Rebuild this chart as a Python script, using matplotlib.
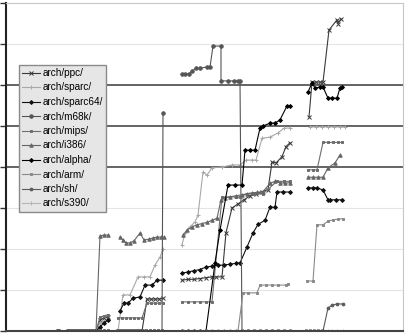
import numpy as np
import matplotlib
matplotlib.use("Agg")
from matplotlib import pyplot as plt

plt.rcParams["font.family"] = ["Liberation Sans", "DejaVu Sans"]

# x = sample number (days), y = size per arch directory; None = no sample
zero_days = [26, 31, 33, 35, 37, 39, 41, 43, 45]
zeros = [0] * len(zero_days)
g2_days = [56, 58, 60, 62, 64, 66, 68, 70, 72, 74, 76, 78]
g3_days = [88, 91, 94, 97, 100, 103, 106, 109, 112, 115, 118, 121, 124, 127, 130, 133, 136, 139, 142]
g4_days = [150, 152, 154, 156, 158, 161, 163, 165.5, 168.5]

ppc_x = zero_days + [47, 49, 51, None] + g2_days[:7] + [70.5, 72.5, 74.5, 76.5, 78.5, None,
         88, 91, 94, 97, 100, 103, 105, 108, 110, 113, 116, 119, 122, 125, 128, 131, 133, 135, 138, 140, 142, None,
         151.5, 153, 155, 157, 158.5, 161.5, 165.5, 166, 167.5]
ppc_y = zeros + [27, 32, 34, None] + [0] * 7 + [78, 78, 78, 78, 80, None,
         124, 126, 126, 128, 130, 132, 132, 132, 240, 300, 310, 320, 330, 335, 340, 345, 412, 410, 425, 450, 459, None,
         522, 607, 607, 607, 607, 734, 759, 750, 761]

sparc_x = zero_days + [47, 49, 51, None, 56, 58.5, 62, 66, 69, 72, 74.5, 77, 78.5, None,
           88, 89.5, 92, 94.5, 96, 98.5, 100.5, 103, 108, 113, 117, 120, 123, 125, 128, 132, 136, 139, 142, None,
           152, 155, 158, 161, 164, 167, 169.5]
sparc_y = zeros + [20, 24, 27, None, 0, 88, 88, 132, 132, 132, 161, 180, 200, None,
           210, 239, 254, 266, 283, 388, 380, 398, 400, 405, 405, 417, 417, 417, 470, 473, 483, 495, 495, None,
           498, 498, 498, 498, 498, 498, 498]

sparc64_x = zero_days + [47, 49, 51, None, 57, 59, 61, 63.5, 67, 69.5, 73, 75.5, 78.5, None,
             88, 91, 94, 97, 100, 103, 106, 109, 112, 115, 117, 120.5, 123.5, 126, 129.5, 132, 134.5, 135.5, 138.5, 142, None,
             151, 153.5, 155.5, 158.5, 161, 162, 165, 168]
sparc64_y = zeros + [10, 20, 27, None, 49, 68, 68, 80, 83, 112, 112, 124, 124, None,
             141, 144, 147, 150, 156, 158, 160, 161, 163, 165, 166, 205, 239, 260, 270, 302, 302, 339, 339, 339, None,
             349, 349, 349, 344, 320, 320, 320, 320]

m68k_x = zero_days + [47, 49, 51, None] + g2_days + [78.5, None,
          88, 89.5, 91.5, 93, 95, 97, 100.5, 102, 103.5, 107.5, 107.5, 111, 114, 116, 117, 118,
          121, 124, 127, 130, 133, 136, 139, 142, None] + g4_days[:5]
m68k_y = zeros + [0, 0, 0, None] + [0] * 12 + [532, None,
          627, 627, 627, 634, 641, 641, 644, 644, 695, 695, 610, 610, 610, 610, 610, 0,
          0, 0, 0, 0, 0, 0, 0, 0, None] + [0] * 5

mips_x = zero_days + [47, 49, 51, None, 56, 58, 60, 62, 64, 66, 68, 70.5, 72.5, 74.5, 76.5, 78.5, None,
          88, 91, 94, 97, 100, 103, 108, 112, 115, 117, 120.5, 124, 128.5, 135.5, 139, 142, None,
          151, 153.5, 155.5, 158.5, 161, 163.5, 166, 168]
mips_y = zeros + [34, 37, 40, None, 32, 32, 32, 32, 32, 32, 32, 68, 68, 68, 68, 68, None,
          71, 71, 71, 71, 71, 71, 327, 327, 327, 327, 335, 335, 335, 365, 365, 365, None,
          393, 393, 393, 460, 460, 460, 460, 460]

i386_x = zero_days + [47, 49, 51, None, 57, 58.5, 60, 62, 64, 67, 69, 71.5, 73.5, 75.5, 77.5, 79, None,
          88.5, 90.5, 93, 95.5, 98, 100.5, 103, 105.5, 107.5, 109.5, 112, 115, 118, 120.5, 123, 125.5, 128.5,
          132, 134.5, 137, 139.5, 142, None, 151, 153.5, 156, 158.5, 161, 164.5, 167]
i386_y = zeros + [232, 234, 234, None, 229, 222, 215, 215, 220, 239, 222, 224, 227, 229, 229, 229, None,
          234, 246, 254, 259, 262, 265, 270, 275, 320, 325, 327, 330, 332, 335, 337, 338, 340,
          360, 365, 362, 360, 362, None, 375, 375, 375, 375, 398, 410, 429]

alpha_x = zero_days + [47, 49, 51, None] + g2_days + [None,
           88, 91, 94, 97, 100, 104.5, 107, 111, 114.5, 118, 119.5, 122, 124.5, 127, 128.5, 132, 134.5, 137, 140.5, 142, None,
           151, 153, 154.5, 157, 158.5, 161, 163, 165.5, 167, 168]
alpha_y = zeros + [0, 0, 0, None] + [0] * 12 + [None,
           0, 0, 0, 0, 0, 166, 246, 356, 356, 356, 441, 441, 441, 495, 500, 507, 507, 515, 549, 549, None,
           583, 605, 593, 595, 595, 568, 568, 568, 593, 595]

arm_x = zero_days + [47, 49, 51, None] + g2_days + [None,
         88, 94, 100, 106, 112, 116, 118.5, 121, 125.5, 127, 130, 133, 136, 140, 141, None,
         150.5, 153.5, 155.5, 158.5, 161, 163.5, 166, 168.5]
arm_y = zeros + [0, 0, 0, None] + [0] * 12 + [None,
         0, 0, 0, 0, 0, 0, 93, 93, 93, 112, 112, 112, 112, 112, 115, None,
         122, 122, 259, 259, 268, 271, 273, 274]

sh_x = zero_days + [47, 49, 51, None] + g2_days + [None] + g3_days + [None, 150, 152, 154, 156, 158.5, 161, 163, 165.5, 168.5]
sh_y = zeros + [0, 0, 0, None] + [0] * 12 + [None] + [0] * 19 + [None, 0, 0, 0, 0, 0, 56, 63, 66, 66]

s390_x = zero_days + [47, 49, 51, None] + g2_days + [None] + g3_days + [None] + g4_days
s390_y = zeros + [0, 0, 0, None] + [0] * 12 + [None] + [0] * 19 + [None] + [0] * 9

series = [
    ("arch/ppc/", ppc_x, ppc_y, "#3a3a3a", "x", 3),
    ("arch/sparc/", sparc_x, sparc_y, "#a8a8a8", "+", 3),
    ("arch/sparc64/", sparc64_x, sparc64_y, "#111111", "D", 2),
    ("arch/m68k/", m68k_x, m68k_y, "#555555", "o", 2.5),
    ("arch/mips/", mips_x, mips_y, "#6e6e6e", "s", 2),
    ("arch/i386/", i386_x, i386_y, "#666666", "^", 2.5),
    ("arch/alpha/", alpha_x, alpha_y, "#000000", "D", 2),
    ("arch/arm/", arm_x, arm_y, "#8a8a8a", "s", 2),
    ("arch/sh/", sh_x, sh_y, "#5a5a5a", "o", 2),
    ("arch/s390/", s390_x, s390_y, "#b5b5b5", "|", 3),
]

fig = plt.figure(figsize=(4.05, 3.34), dpi=100)
ax = fig.add_axes([6 / 405, 3 / 334, 397 / 405, 328 / 334])

for v in range(100, 800, 100):
    dark = v in (400, 500, 600)
    ax.axhline(v, color="#4a4a4a" if dark else "#e4e4e4", lw=1.2 if dark else 0.8, zorder=0)

for name, xs, ys, col, mk, ms in series:
    x = np.array(xs, dtype=float)
    y = np.array(ys, dtype=float)
    ax.plot(x, y, color=col, lw=0.8, marker=mk, ms=ms, mew=0.7, label=name)

ax.set_xlim(0, 198.5)
ax.set_ylim(0, 800)
ax.set_xticks([])
ax.set_yticks(range(0, 801, 100))
ax.set_yticklabels([])
ax.tick_params(axis="y", length=4, width=1, color="#333333")
for side in ("top", "right"):
    ax.spines[side].set_color("#c8c8c8")
ax.spines["left"].set_color("#222222")
ax.spines["left"].set_linewidth(1.5)
ax.spines["bottom"].set_color("#444444")
ax.spines["bottom"].set_linewidth(1.5)

leg = ax.legend(loc="upper left", bbox_to_anchor=(13 / 397, 1 - 62 / 328), fontsize=7.2,
                frameon=True, fancybox=False, borderpad=0.3, labelspacing=0.45,
                handlelength=1.8, handletextpad=0.3, borderaxespad=0)
leg.get_frame().set_facecolor("#e6e6e6")
leg.get_frame().set_edgecolor("#8a8a8a")
leg.get_frame().set_alpha(1)

fig.savefig("out.png", dpi=100)
